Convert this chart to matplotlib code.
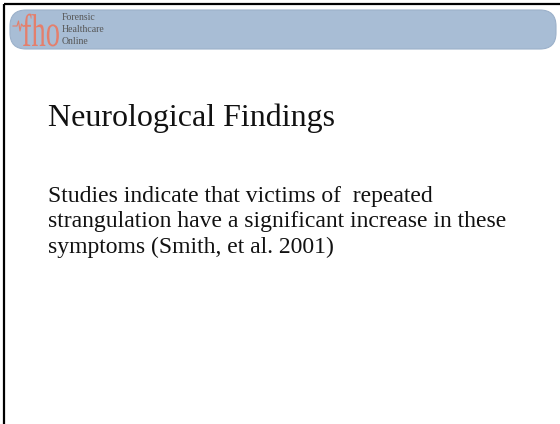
import matplotlib.pyplot as plt
from matplotlib.patches import FancyBboxPatch, PathPatch
from matplotlib.textpath import TextPath
from matplotlib.transforms import Affine2D

# slide content
title = "Neurological Findings"
body_lines = [
    "Studies indicate that victims of  repeated",
    "strangulation have a significant increase in these",
    "symptoms (Smith, et al. 2001)",
]
logo_letters = "fho"
logo_words = ["Forensic", "Healthcare", "Online"]

W, H = 560, 424
fig = plt.figure(figsize=(W / 100, H / 100), dpi=100)
ax = fig.add_axes([0, 0, 1, 1])
ax.set_xlim(0, W)
ax.set_ylim(H, 0)
ax.axis("off")

# black border on top and left
ax.plot([3.5, 3.5], [H, 3.5], color="black", lw=1.6, solid_capstyle="butt")
ax.plot([3.5, W], [3.5, 3.5], color="black", lw=1.6, solid_capstyle="butt")

# header banner
banner = FancyBboxPatch((10, 10), 546, 39, boxstyle="round,pad=0,rounding_size=16",
                        facecolor="#a8bdd5", edgecolor="#9cb1ca", lw=0.8)
ax.add_patch(banner)

# logo: heartbeat line + stretched "fho"
salmon = "#e47f6c"
ax.plot([13, 17, 18.5, 20, 21.5, 23], [26, 26, 21, 31, 24, 26], color=salmon, lw=0.8)
tp = TextPath((0, 0), logo_letters, size=1, prop={"family": "Liberation Serif"})
tp = Affine2D().scale(28.5, -46).translate(22, 46).transform_path(tp)
ax.add_patch(PathPatch(tp, facecolor=salmon, edgecolor="none"))

for i, w in enumerate(logo_words):
    ax.text(62, 19.5 + i * 12, w, fontsize=7, family="Liberation Serif",
            color="#555555", va="baseline", ha="left")

# title and body
ax.text(48, 126, title, fontsize=23, family="Liberation Serif",
        color="#111111", va="baseline", ha="left")
for i, line in enumerate(body_lines):
    ax.text(48, 202 + i * 25.5, line, fontsize=17, family="Liberation Serif",
            color="#111111", va="baseline", ha="left")

fig.savefig("out.png", dpi=100)
